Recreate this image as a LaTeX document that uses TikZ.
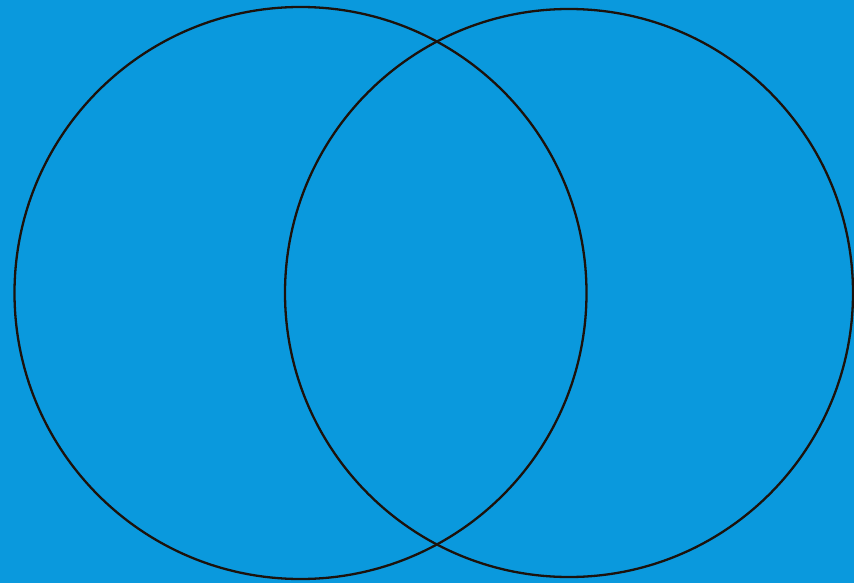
\documentclass[tikz,border=0pt]{standalone}
\definecolor{bg}{RGB}{10,153,221}
\definecolor{ring}{RGB}{28,18,12}
\begin{document}
\begin{tikzpicture}[x=1pt,y=-1pt,
  venn/.style={draw=ring,line width=2.3pt}]
\fill[bg] (0,0) rectangle (854,583);
\useasboundingbox (0,0) rectangle (854,583);
\node[venn,circle,minimum size=572pt,inner sep=0pt] (A) at (300.5,293) {};
\node[venn,circle,minimum size=568pt,inner sep=0pt] (B) at (569,293) {};
\end{tikzpicture}
\end{document}
